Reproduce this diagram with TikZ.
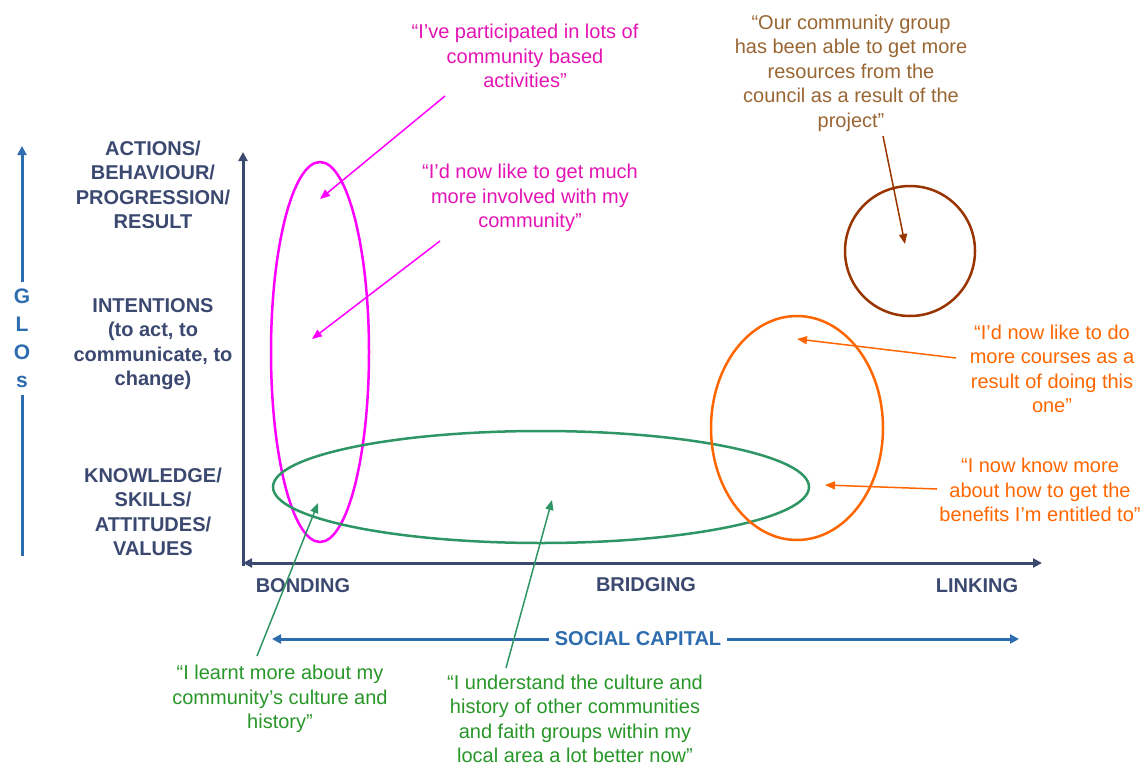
\documentclass[tikz,border=0pt]{standalone}
\usepackage{fontspec}
\setmainfont{Liberation Sans}
\usetikzlibrary{arrows.meta}
\definecolor{navy}{RGB}{59,72,112}
\definecolor{glosblue}{RGB}{46,108,176}
\definecolor{pinkquote}{RGB}{228,20,180}
\definecolor{pinkring}{RGB}{255,0,255}
\definecolor{greenquote}{RGB}{40,150,40}
\definecolor{greenring}{RGB}{46,150,100}
\definecolor{orangeq}{RGB}{255,102,0}
\definecolor{brownring}{RGB}{153,51,0}
\definecolor{brownquote}{RGB}{153,102,51}
\begin{document}
\begin{tikzpicture}
        [x=1pt,y=-1pt,
        every node/.style={inner sep=0pt,align=center,font=\fontsize{20}{24.5}\selectfont},
        axislabel/.style={font=\fontsize{20}{24.5}\selectfont\bfseries,text=navy},
        axis/.style={draw=navy,line width=3pt},
        ring/.style={line width=2.5pt},
        pointer/.style={-{Triangle[length=10pt,width=8pt]},line width=1.5pt},
        ]
        \useasboundingbox (0,0) rectangle (1145,765);
        % axes
        \coordinate (origin) at (243,566);
        \coordinate (y-top) at (243,152);
        \coordinate (x-left) at (243,563);
        \coordinate (x-right) at (1042,563);
        \draw[axis,-{Triangle[length=9pt,width=9pt]}] (origin) -- (y-top);
        \draw[axis,{Triangle[length=9pt,width=9pt]}-{Triangle[length=9pt,width=9pt]}] (x-left) -- (x-right);
        \coordinate (glos-bottom) at (22,556);
        \coordinate (glos-top) at (22,146);
        \draw[draw=glosblue,line width=3pt,-{Triangle[length=9pt,width=9pt]}] (glos-bottom) -- (glos-top)
            node[pos=0.53,fill=white,inner xsep=4pt,inner ysep=7pt,font=\fontsize{21}{28}\selectfont\bfseries,text=glosblue] (glos) {G\\L\\O\\s};
        \coordinate (social-left) at (272,639);
        \coordinate (social-right) at (1019,639);
        \draw[draw=glosblue,line width=3pt,{Triangle[length=9pt,width=9pt]}-{Triangle[length=9pt,width=9pt]}] (social-left) -- (social-right)
            node[pos=0.49,fill=white,inner xsep=6pt,inner ysep=3pt,font=\fontsize{20}{24.5}\selectfont\bfseries,text=glosblue] (social) {SOCIAL CAPITAL};
        \node[axislabel] (actions) at (153,185) {ACTIONS/\\BEHAVIOUR/\\PROGRESSION/\\RESULT};
        \node[axislabel] (intentions) at (153,344) {INTENTIONS\\(to act, to\\communicate, to\\change)};
        \node[axislabel] (knowledge) at (153,512) {KNOWLEDGE/\\SKILLS/\\ATTITUDES/\\VALUES};
        \node[axislabel] (bonding) at (303,586) {BONDING};
        \node[axislabel] (bridging) at (646,585) {BRIDGING};
        \node[axislabel] (linking) at (977,586) {LINKING};
        % rings
        \draw[ring,draw=pinkring] (320,352) ellipse [x radius=49,y radius=190];
        \draw[ring,draw=greenring] (541,487) ellipse [x radius=268,y radius=56];
        \draw[ring,draw=orangeq] (797,428) ellipse [x radius=86,y radius=112];
        \draw[ring,draw=brownring] (910,251) circle [radius=65];
        % quotes
        \node[text=pinkquote] (quote-1) at (525,56) {“I’ve participated in lots of\\community based\\activities”};
        \node[text=pinkquote] (quote-2) at (530,198) {“I’d now like to get much\\more involved with my\\community”};
        \node[text=brownquote] (quote-3) at (851,73) {“Our community group\\has been able to get more\\resources from the\\council as a result of the\\project”};
        \node[text=orangeq] (quote-4) at (1052,369) {“I’d now like to do\\more courses as a\\result of doing this\\one”};
        \node[text=orangeq] (quote-5) at (1040,490) {“I now know more\\about how to get the\\benefits I’m entitled to”};
        \node[text=greenquote] (quote-6) at (280,699) {“I learnt more about my\\community’s culture and\\history”};
        \node[text=greenquote] (quote-7) at (575,719) {“I understand the culture and\\history of other communities\\and faith groups within my\\local area a lot better now”};
        % pointers
        \coordinate (tail-1) at (445,96);
        \coordinate (tip-1) at (320,199);
        \coordinate (tail-2) at (440,241);
        \coordinate (tip-2) at (312,339);
        \coordinate (tail-3) at (883,136);
        \coordinate (tip-3) at (905,244);
        \coordinate (tail-4) at (956,358);
        \coordinate (tip-4) at (797,339);
        \coordinate (tail-5) at (937,489);
        \coordinate (tip-5) at (825,485);
        \coordinate (tail-6) at (257,656);
        \coordinate (tip-6) at (318,503);
        \coordinate (tail-7) at (506,668);
        \coordinate (tip-7) at (552,500);
        \draw[pointer,draw=pinkring,fill=pinkring] (tail-1) -- (tip-1);
        \draw[pointer,draw=pinkring,fill=pinkring] (tail-2) -- (tip-2);
        \draw[pointer,draw=brownring,fill=brownring] (tail-3) -- (tip-3);
        \draw[pointer,draw=orangeq,fill=orangeq] (tail-4) -- (tip-4);
        \draw[pointer,draw=orangeq,fill=orangeq] (tail-5) -- (tip-5);
        \draw[pointer,draw=greenring,fill=greenring] (tail-6) -- (tip-6);
        \draw[pointer,draw=greenring,fill=greenring] (tail-7) -- (tip-7);
    \end{tikzpicture}
\end{document}
